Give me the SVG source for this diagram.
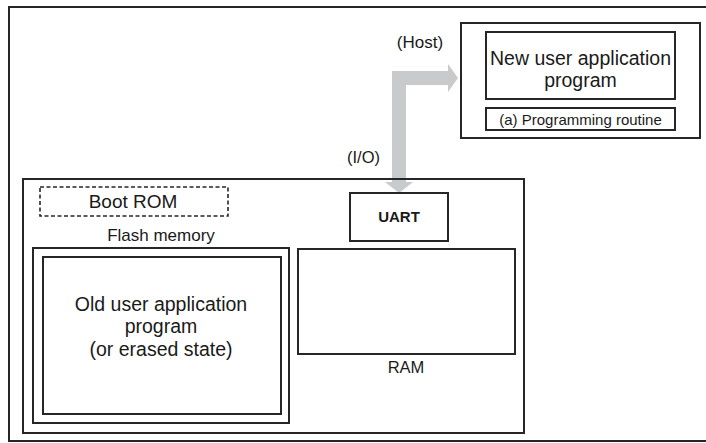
<svg xmlns="http://www.w3.org/2000/svg" width="706" height="443" viewBox="0 0 706 443">
<style>
.box{fill:none;stroke:#262626;stroke-width:2}
.dash{fill:none;stroke:#262626;stroke-width:1.6;stroke-dasharray:4 2.5}
.t{font-family:"Liberation Sans",Arial,sans-serif;fill:#1a1a1a;text-anchor:middle}
.arrow{fill:#c9cacc;stroke:none}
</style>
<rect width="706" height="443" fill="#ffffff"/>
<g id="frame"><rect class="box" x="9" y="7" width="700" height="434"/></g>
<g id="connectors">
<polygon class="arrow" points="392,182 385,182 399,193 413,182 406,182 406,85 448,85 448,92 458,78 448,64 448,71 392,71"/>
<text class="t" x="420" y="48" font-size="17">(Host)</text>
<text class="t" x="363.5" y="163" font-size="16.5">(I/O)</text>
</g>
<g id="host">
<rect class="box" x="461" y="23" width="239" height="115"/>
</g>
<g id="new-user-app">
<rect class="box" x="486" y="32" width="189" height="67"/>
<text class="t" x="580.5" y="65" font-size="19.5">New user application</text>
<text class="t" x="580.5" y="87" font-size="19.5">program</text>
</g>
<g id="programming-routine">
<rect class="box" x="486" y="108" width="189" height="22"/>
<text class="t" x="580.5" y="125" font-size="15">(a) Programming routine</text>
</g>
<g id="chip">
<rect class="box" x="23" y="179" width="501" height="254"/>
</g>
<g id="boot-rom">
<rect class="dash" x="40" y="187" width="188" height="29"/>
<text class="t" x="133" y="208" font-size="19">Boot ROM</text>
</g>
<g id="flash-memory">
<text class="t" x="161" y="241" font-size="17">Flash memory</text>
<rect class="box" x="33" y="248" width="256" height="175"/>
</g>
<g id="old-user-app">
<rect class="box" x="43" y="257" width="238" height="157"/>
<text class="t" x="161" y="311" font-size="19.5">Old user application</text>
<text class="t" x="161" y="333" font-size="19.5">program</text>
<text class="t" x="161" y="356" font-size="19.5">(or erased state)</text>
</g>
<g id="uart">
<rect class="box" x="350" y="193" width="98" height="48"/>
<text class="t" x="399" y="222" font-size="15" font-weight="bold">UART</text>
</g>
<g id="ram">
<rect class="box" x="298" y="249" width="217" height="105"/>
<text class="t" x="406" y="373" font-size="16.5">RAM</text>
</g>
</svg>
